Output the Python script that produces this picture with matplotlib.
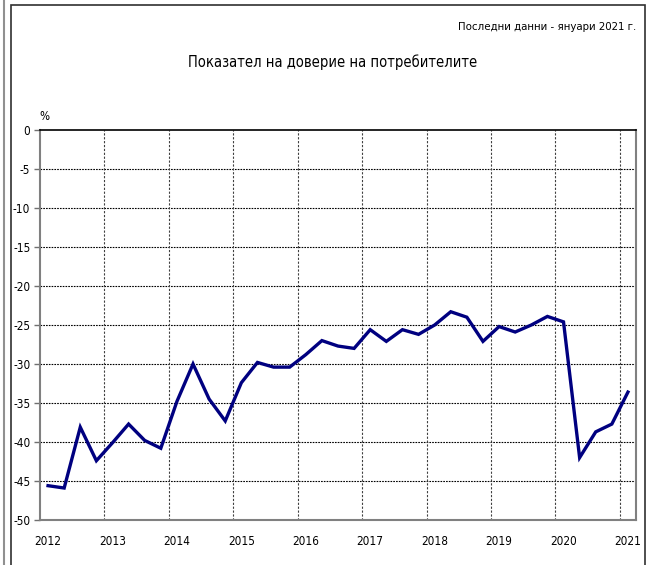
import matplotlib
matplotlib.use("Agg")
import matplotlib.pyplot as plt
from matplotlib.patches import Rectangle
from matplotlib.lines import Line2D

plt.rcParams['font.family'] = ['DejaVu Sans']
plt.rcParams['font.stretch'] = 'condensed'

# Данни: показател на доверие, тримесечно 2012 Q1 - 2021 (януари)
years = ['2012', '2013', '2014', '2015', '2016', '2017', '2018', '2019', '2020', '2021']
values = [
    -45.6, -45.9, -38.1, -42.4,   # 2012
    -40.1, -37.7, -39.8, -40.8,   # 2013
    -34.8, -30.0, -34.5, -37.3,   # 2014
    -32.4, -29.8, -30.4, -30.4,   # 2015
    -28.8, -27.0, -27.7, -28.0,   # 2016
    -25.6, -27.1, -25.6, -26.2,   # 2017
    -25.0, -23.3, -24.0, -27.1,   # 2018
    -25.2, -25.9, -25.0, -23.9,   # 2019
    -24.6, -42.0, -38.7, -37.7,   # 2020
    -33.6,                        # 2021 (януари)
]

fig = plt.figure(figsize=(6.52, 5.65), dpi=100)

# рамка около диаграмата
fig.add_artist(Line2D([3.5 / 652, 3.5 / 652], [0, 1], color='#909090', lw=1.5))
fig.add_artist(Rectangle((11 / 652, -0.1), 634 / 652, 1.1 - 5 / 565, fill=False,
                         edgecolor='#303030', lw=1.2, transform=fig.transFigure))

ax = fig.add_axes([40 / 652, 1 - 520 / 565, 596 / 652, 390 / 565])

x = list(range(len(values)))
ax.plot(x, values, color='#000080', lw=2.4, solid_joinstyle='miter')

ax.set_xlim(-0.5, len(values) - 0.5)
ax.set_ylim(-50, 0)
ax.set_yticks(range(-50, 1, 5))
ax.set_yticklabels([str(v) for v in range(-50, 1, 5)], fontsize=8.5)

ax.set_xticks([4 * i for i in range(len(years))])
ax.set_xticklabels(years, fontsize=8.5)
ax.tick_params(axis='x', length=0, pad=11)
ax.tick_params(axis='y', length=4, width=1, color='#707070', pad=3)

# сетка
for yv in range(-45, 0, 5):
    ax.axhline(yv, color='black', lw=0.8, ls=(0, (1.5, 1)), zorder=0)
for i in range(1, len(years)):
    ax.axvline(4 * i - 0.5, color='#404040', lw=0.8, ls=(0, (2, 1.5)), zorder=0)

for s in ['left', 'bottom', 'right']:
    ax.spines[s].set_color('#808080')
    ax.spines[s].set_linewidth(1.5)
ax.spines['top'].set_color('black')
ax.spines['top'].set_linewidth(1.2)

fig.text(44 / 652, 1 - 116 / 565, '%', fontsize=8.5, ha='center', va='center')
fig.text(333 / 652, 1 - 62 / 565, 'Показател на доверие на потребителите',
         fontsize=10.5, ha='center', va='center')
fig.text(636 / 652, 1 - 27 / 565, 'Последни данни - януари 2021 г.',
         fontsize=8.2, ha='right', va='center')

fig.savefig('out.png', dpi=100)
